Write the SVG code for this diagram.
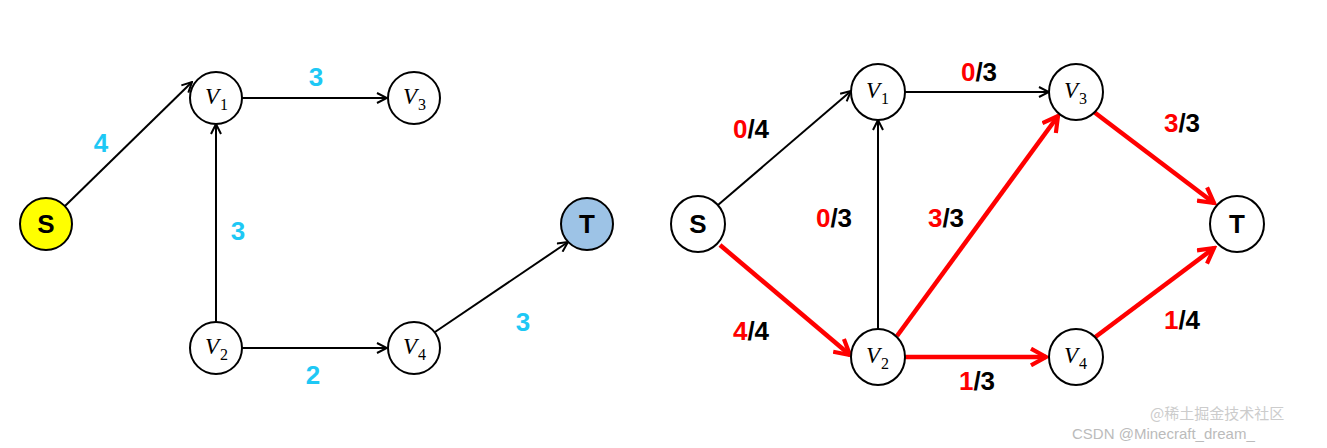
<svg xmlns="http://www.w3.org/2000/svg" width="1327" height="448" viewBox="0 0 1327 448">
<style>
.n{fill:#fff;stroke:#000;stroke-width:2}
.v{font-family:"Liberation Serif",serif;font-style:italic;font-size:23px}
.sub{font-family:"Liberation Serif",serif;font-size:16px;font-style:normal}
.b{font-family:"Liberation Sans",Arial,sans-serif;font-weight:bold;font-size:26px;text-anchor:middle}
.c{fill:#1ec8f5}
.r{fill:#f00}
.k{stroke:#000;stroke-width:2;fill:none}
.rl{stroke:#f00;stroke-width:4.5;fill:none}
</style>
<defs>
<marker id="ak" viewBox="0 0 12 12" refX="11" refY="6" markerWidth="12" markerHeight="12" markerUnits="userSpaceOnUse" orient="auto"><path d="M1,1 L11,6 L1,11" fill="none" stroke="#000" stroke-width="2"/></marker>
<marker id="ar" viewBox="0 0 12 12" refX="10" refY="6" markerWidth="20" markerHeight="20" markerUnits="userSpaceOnUse" orient="auto"><path d="M1,1 L10,6 L1,11" fill="none" stroke="#f00" stroke-width="2.5"/></marker>
</defs>
<rect width="1327" height="448" fill="#fff"/>
<g id="connectors">
<path class="k" d="M65,206 L192,82" marker-end="url(#ak)"/>
<path class="k" d="M242,98 L387,98" marker-end="url(#ak)"/>
<path class="k" d="M216,322 L216,124" marker-end="url(#ak)"/>
<path class="k" d="M242,348 L387,348" marker-end="url(#ak)"/>
<path class="k" d="M435,332 L568,242" marker-end="url(#ak)"/>
<path class="k" d="M718,205 L851,91" marker-end="url(#ak)"/>
<path class="k" d="M905,92 L1049,92" marker-end="url(#ak)"/>
<path class="k" d="M878,329 L878,120" marker-end="url(#ak)"/>
<path class="rl" d="M720,245 L850,355" marker-end="url(#ar)"/>
<path class="rl" d="M897,336 L1058,116" marker-end="url(#ar)"/>
<path class="rl" d="M905,357 L1046,357" marker-end="url(#ar)"/>
<path class="rl" d="M1094,112 L1214,203" marker-end="url(#ar)"/>
<path class="rl" d="M1094,338 L1214,248" marker-end="url(#ar)"/>
</g>
<g id="S1"><ellipse class="n" cx="46" cy="224" rx="26" ry="26" style="fill:#ffff00"/><text class="b" x="46" y="233">S</text></g>
<g id="V1a"><ellipse class="n" cx="216" cy="98" rx="26" ry="26"/><text class="v" x="205" y="104">V<tspan class="sub" dx="1" dy="6">1</tspan></text></g>
<g id="V3a"><ellipse class="n" cx="414" cy="98" rx="26" ry="26"/><text class="v" x="403" y="104">V<tspan class="sub" dx="1" dy="6">3</tspan></text></g>
<g id="V2a"><ellipse class="n" cx="216" cy="348" rx="26" ry="26"/><text class="v" x="205" y="354">V<tspan class="sub" dx="1" dy="6">2</tspan></text></g>
<g id="V4a"><ellipse class="n" cx="414" cy="348" rx="26" ry="26"/><text class="v" x="403" y="354">V<tspan class="sub" dx="1" dy="6">4</tspan></text></g>
<g id="T1"><ellipse class="n" cx="587" cy="224" rx="26" ry="26" style="fill:#9dc3e6"/><text class="b" x="587" y="233">T</text></g>
<g id="S2"><ellipse class="n" cx="698" cy="224" rx="27" ry="28"/><text class="b" x="698" y="233">S</text></g>
<g id="V1b"><ellipse class="n" cx="878" cy="92" rx="27" ry="28"/><text class="v" x="866" y="98">V<tspan class="sub" dx="1" dy="6">1</tspan></text></g>
<g id="V3b"><ellipse class="n" cx="1076" cy="92" rx="27" ry="28"/><text class="v" x="1064" y="98">V<tspan class="sub" dx="1" dy="6">3</tspan></text></g>
<g id="V2b"><ellipse class="n" cx="878" cy="357" rx="27" ry="28"/><text class="v" x="866" y="363">V<tspan class="sub" dx="1" dy="6">2</tspan></text></g>
<g id="V4b"><ellipse class="n" cx="1076" cy="357" rx="27" ry="28"/><text class="v" x="1064" y="363">V<tspan class="sub" dx="1" dy="6">4</tspan></text></g>
<g id="T2"><ellipse class="n" cx="1237" cy="224" rx="27" ry="28"/><text class="b" x="1237" y="233">T</text></g>
<g id="labels">
<text class="b c" x="101" y="152">4</text>
<text class="b c" x="316" y="86">3</text>
<text class="b c" x="238" y="240">3</text>
<text class="b c" x="523" y="331">3</text>
<text class="b c" x="313" y="384">2</text>
<text class="b" x="751" y="138"><tspan class="r">0</tspan>/4</text>
<text class="b" x="979" y="81"><tspan class="r">0</tspan>/3</text>
<text class="b" x="1182" y="132"><tspan class="r">3</tspan>/3</text>
<text class="b" x="834" y="227"><tspan class="r">0</tspan>/3</text>
<text class="b" x="946" y="227"><tspan class="r">3</tspan>/3</text>
<text class="b" x="751" y="340"><tspan class="r">4</tspan>/4</text>
<text class="b" x="977" y="390"><tspan class="r">1</tspan>/3</text>
<text class="b" x="1182" y="329"><tspan class="r">1</tspan>/4</text>
</g>
<text x="1072" y="439" font-family="'Liberation Sans',sans-serif" font-size="15" fill="#bbb">CSDN @Minecraft_dream_</text>
<text x="1150" y="419" font-family="'Noto Sans CJK SC',sans-serif" font-size="15" fill="#ccc">@稀土掘金技术社区</text>
</svg>
